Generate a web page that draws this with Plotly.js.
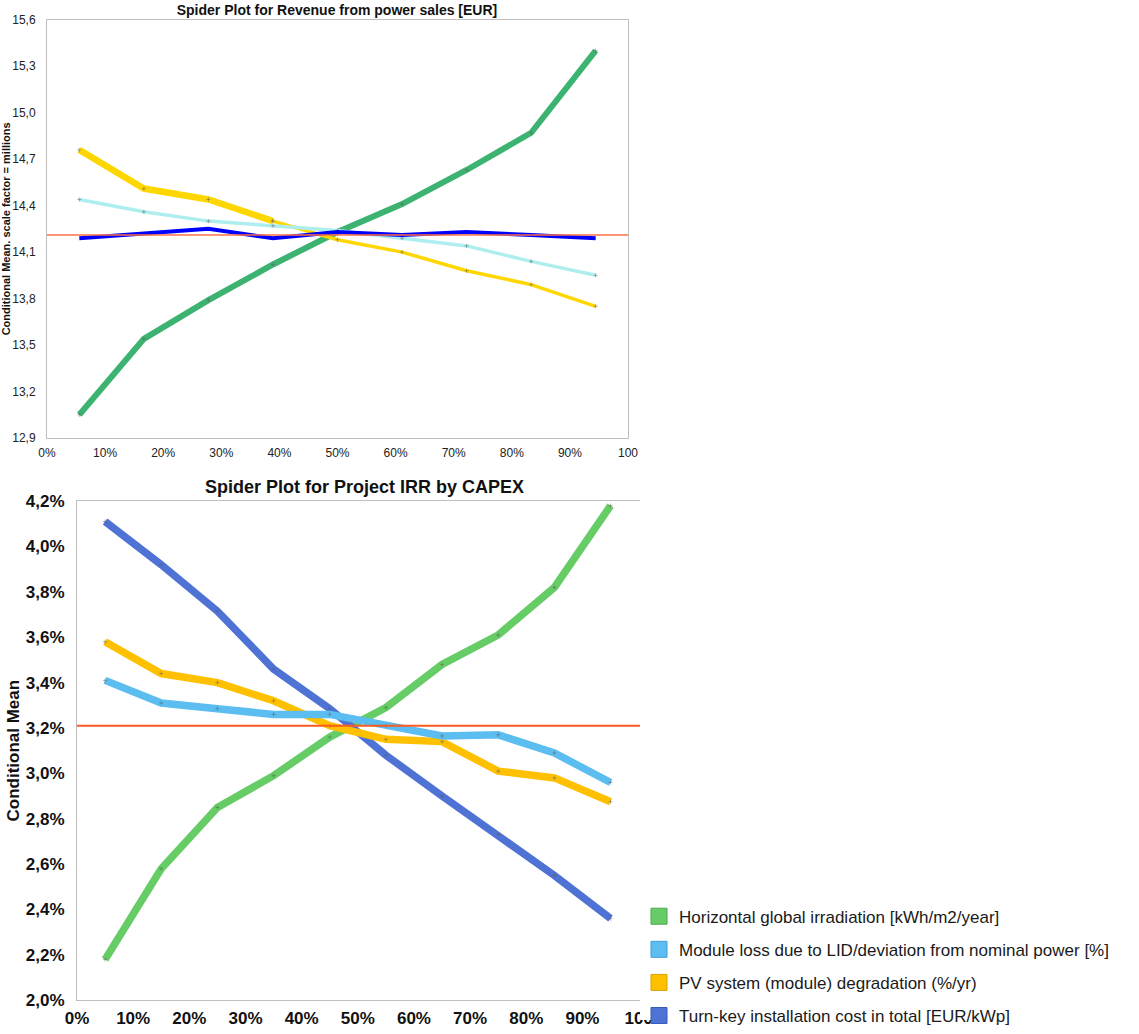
<!DOCTYPE html>
<html>
<head>
<meta charset="utf-8">
<script src="https://cdn.plot.ly/plotly-3.0.1.min.js"></script>
<style>html,body{margin:0;padding:0;background:#fff;}#chart{width:1139px;height:1034px;}</style>
</head>
<body>
<div id="chart"></div>
<script>
// ---------- Top chart: Revenue from power sales [EUR] (millions) ----------
const topX = [5.56, 16.67, 27.78, 38.89, 50, 61.11, 72.22, 83.33, 94.44];
const topIrradiation = [13.05, 13.54, 13.79, 14.02, 14.23, 14.41, 14.63, 14.87, 15.40];
const topDegradation = [14.76, 14.51, 14.44, 14.30, 14.18, 14.10, 13.98, 13.89, 13.75];
const topModuleLoss = [14.44, 14.36, 14.30, 14.27, 14.24, 14.19, 14.14, 14.04, 13.95];
const topCost = [14.19, 14.22, 14.25, 14.19, 14.23, 14.21, 14.23, 14.21, 14.19];
const topBase = 14.21;
const topXTickVals = [0, 10, 20, 30, 40, 50, 60, 70, 80, 90, 100];
const topXTickText = ["0%", "10%", "20%", "30%", "40%", "50%", "60%", "70%", "80%", "90%", "100"];

// ---------- Bottom chart: Project IRR by CAPEX (%) ----------
const botX = [5, 15, 25, 35, 45, 55, 65, 75, 85, 95];
const botIrradiation = [2.18, 2.58, 2.85, 2.99, 3.16, 3.29, 3.48, 3.61, 3.82, 4.18];
const botModuleLoss = [3.41, 3.31, 3.285, 3.26, 3.26, 3.21, 3.165, 3.17, 3.09, 2.96];
const botDegradation = [3.58, 3.44, 3.40, 3.32, 3.21, 3.15, 3.14, 3.01, 2.98, 2.875];
const botCost = [4.11, 3.92, 3.715, 3.46, 3.285, 3.08, 2.90, 2.73, 2.55, 2.36];
const botBase = 3.21;
const botXTickText = ["0%", "10%", "20%", "30%", "40%", "50%", "60%", "70%", "80%", "90%", "100"];

const seriesNames = [
  "Horizontal global irradiation [kWh/m2/year]",
  "Module loss due to LID/deviation from nominal power [%]",
  "PV system (module) degradation (%/yr)",
  "Turn-key installation cost in total [EUR/kWp]"
];

const FONT = "Liberation Sans, Arial, sans-serif";
const dot = {symbol: "cross-thin", size: 3, line: {color: "rgba(90,90,90,0.45)", width: 1}};

function line(x, y, color, width, xa, ya, withDots) {
  return {
    type: "scatter", mode: withDots ? "lines+markers" : "lines",
    x: x, y: y, xaxis: xa, yaxis: ya, showlegend: false, hoverinfo: "skip",
    line: {color: color, width: width},
    marker: Object.assign({color: color}, dot)
  };
}

const traces = [];
// top chart
traces.push(line(topX, topIrradiation, "#3CB371", 6, "x", "y", true));
traces.push(line(topX.slice(0, 4), topDegradation.slice(0, 4), "#FFD700", 6.5, "x", "y", true));
traces.push(line(topX.slice(3), topDegradation.slice(3), "#FFD700", 3.5, "x", "y", true));
traces.push(line(topX, topModuleLoss, "#AFEEEE", 3.5, "x", "y", true));
traces.push(line(topX, topCost, "#0000FF", 4, "x", "y", false));
traces.push(line([0, 100], [topBase, topBase], "#FF7043", 1.5, "x", "y", false));
// bottom chart
traces.push(line(botX, botIrradiation, "#66CC66", 7.5, "x2", "y2", true));
traces.push(line(botX, botCost, "#4F73D5", 7.5, "x2", "y2", true));
traces.push(line(botX, botDegradation, "#FFC000", 7.5, "x2", "y2", true));
traces.push(line(botX, botModuleLoss, "#5BBDF0", 7.5, "x2", "y2", true));
traces.push(line([0, 100.6], [botBase, botBase], "#FF5A1F", 2, "x2", "y2", false));

// legend entries (square swatches)
const legendColors = ["#66CC66", "#5BBDF0", "#FFC000", "#4F73D5"];
const legendBorders = ["#4EA84E", "#3E9FD6", "#D9A300", "#3A5BB5"];
seriesNames.forEach(function (name, i) {
  traces.push({
    type: "scatter", mode: "markers", x: [null], y: [null], xaxis: "x2", yaxis: "y2",
    name: name, legendgroup: "g" + i, showlegend: true, hoverinfo: "skip",
    marker: {symbol: "square", size: 16, color: legendColors[i], line: {color: legendBorders[i], width: 1}}
  });
});

const W = 1139, H = 1034;
const axisCommon = {
  showgrid: false, zeroline: false, showline: true, linecolor: "#BFBFBF", linewidth: 1,
  mirror: true, ticks: ""
};

const layout = {
  width: W, height: H,
  margin: {l: 0, r: 0, t: 0, b: 0},
  paper_bgcolor: "#fff", plot_bgcolor: "#fff",
  separators: ",.",
  font: {family: FONT, color: "#222"},
  showlegend: true,
  title: {
    text: "<b>Spider Plot for Revenue from power sales [EUR]</b>",
    font: {family: FONT, size: 14, color: "#111"},
    x: 337 / W, xanchor: "center", xref: "paper",
    y: 1 - 10 / H, yanchor: "middle", yref: "container"
  },
  xaxis: Object.assign({}, axisCommon, {
    domain: [47 / W, 628 / W], anchor: "y", range: [0, 100],
    tickvals: topXTickVals, ticktext: topXTickText,
    tickfont: {family: FONT, size: 12, color: "#222"}, ticklabelstandoff: 4
  }),
  yaxis: Object.assign({}, axisCommon, {
    domain: [590 / H, 1014 / H], anchor: "x", range: [12.9, 15.6],
    tick0: 12.9, dtick: 0.3, tickformat: ".1f",
    tickfont: {family: FONT, size: 12, color: "#222"}, ticklabelstandoff: 8,
    title: {text: "<b>Conditional Mean. scale factor = millions</b>", font: {family: FONT, size: 11, color: "#111"}, standoff: 3}
  }),
  xaxis2: Object.assign({}, axisCommon, {
    domain: [77 / W, 642 / W], anchor: "y2", range: [0, 100.6],
    tickvals: topXTickVals, ticktext: botXTickText,
    tickfont: {family: FONT, size: 17, color: "#111", weight: "bold"}, ticklabelstandoff: 2
  }),
  yaxis2: Object.assign({}, axisCommon, {
    domain: [20 / H, 526 / H], anchor: "x2", range: [2.0, 4.2],
    tick0: 2.0, dtick: 0.2, tickformat: ".1f", ticksuffix: "%",
    tickfont: {family: FONT, size: 17, color: "#111", weight: "bold"}, ticklabelstandoff: 8,
    title: {text: "<b>Conditional Mean</b>", font: {family: FONT, size: 17, color: "#111"}, standoff: 1}
  }),
  annotations: [{
    text: "<b>Spider Plot for Project IRR by CAPEX</b>", showarrow: false,
    xref: "paper", yref: "paper", x: 364 / W, y: (H - 494) / H, xanchor: "center", yanchor: "middle",
    font: {family: FONT, size: 18, color: "#111"}
  }],
  shapes: [{
    type: "rect", xref: "paper", yref: "paper", layer: "above",
    x0: 640 / W, x1: 1, y0: 0, y1: 0.52, fillcolor: "#fff", line: {width: 0}
  }],
  legend: {
    x: 639 / W, xanchor: "left", y: (H - 911) / H, yanchor: "top",
    bgcolor: "rgba(0,0,0,0)", borderwidth: 0,
    font: {family: FONT, size: 17, color: "#1a1a1a"},
    traceorder: "grouped", tracegroupgap: 8, itemsizing: "trace"
  }
};

Plotly.newPlot("chart", traces, layout, {displayModeBar: false, staticPlot: true});
</script>
</body>
</html>
